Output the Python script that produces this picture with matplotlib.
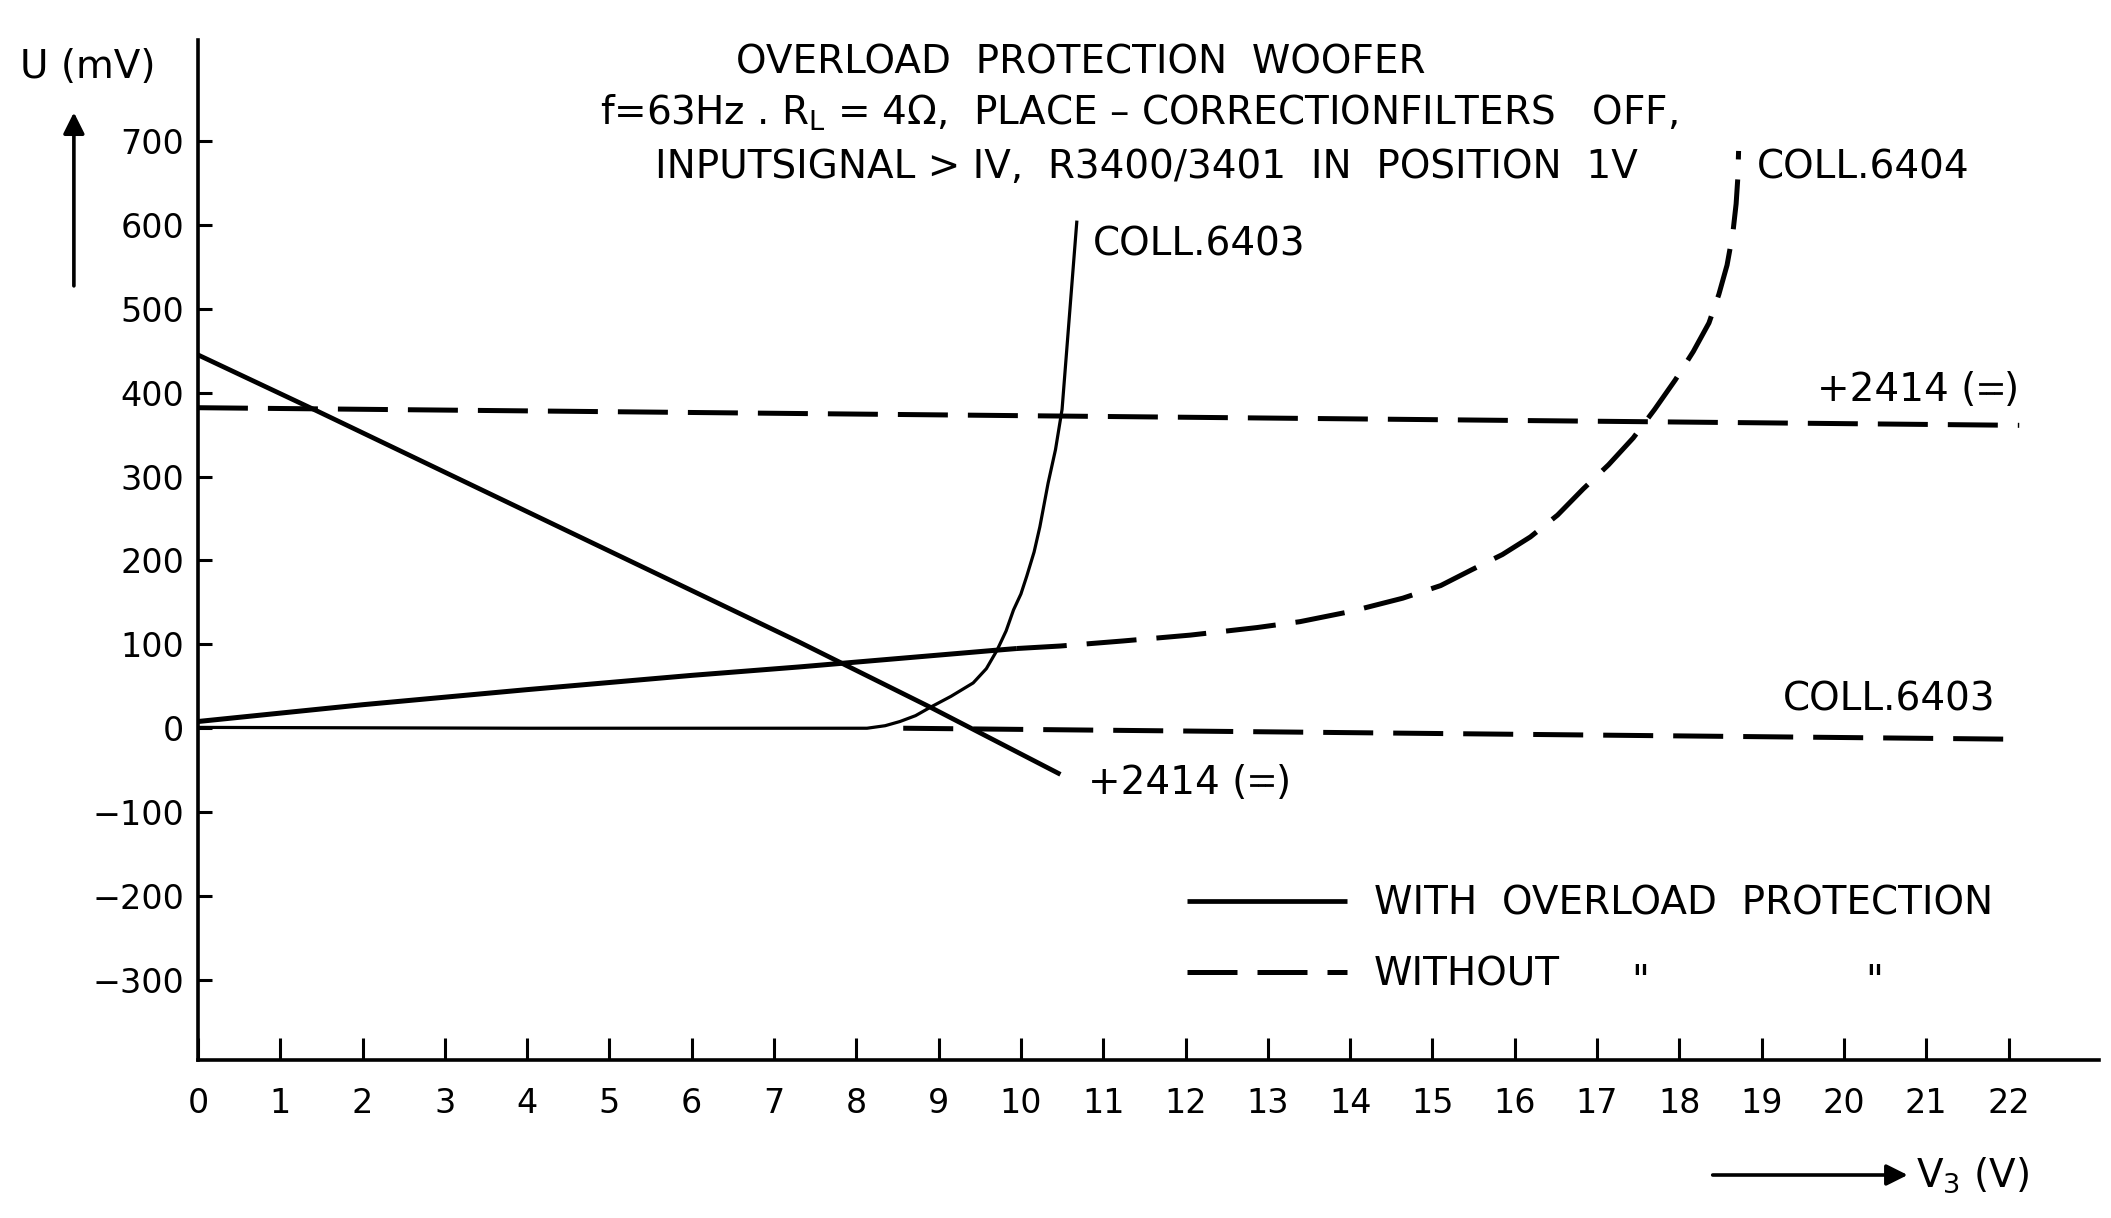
import matplotlib
matplotlib.use("Agg")
import matplotlib.pyplot as plt
from matplotlib.offsetbox import TextArea, DrawingArea, HPacker, AnnotationBbox
from matplotlib.lines import Line2D

plt.rcParams['font.family'] = ['DejaVu Sans']
plt.rcParams['mathtext.fontset'] = 'dejavusans'

# ---------------- data ----------------
x_ticks = list(range(0, 23))
y_ticks = [-300, -200, -100, 0, 100, 200, 300, 400, 500, 600, 700]

# COLL.6403 with overload protection (solid)
coll6403_with_x = [0, 4, 8.13, 8.35, 8.53, 8.72, 8.9, 9.15, 9.42, 9.58, 9.71, 9.82, 9.91,
                   10.0, 10.07, 10.16, 10.23, 10.33, 10.42, 10.5, 10.58, 10.68]
coll6403_with_y = [1, 0, 0, 3, 8, 15, 25, 38, 54, 71, 93, 116, 141,
                   160, 181, 210, 240, 292, 332, 380, 480, 605]

# +2414 with overload protection (solid)
p2414_with_x = [0, 1.45, 7.3, 8.9, 10.48]
p2414_with_y = [445, 378, 103, 25, -55]

# COLL.6404 curve (solid part then dashed part)
coll6404_x = [0, 2, 4, 6, 7.3, 7.9, 9.7, 9.95, 10.48, 11.24, 12.06, 12.87, 13.39, 14.0,
              14.64, 15.1, 15.48, 15.85, 16.19, 16.52, 16.83, 17.14, 17.44, 17.7, 17.95,
              18.17, 18.36, 18.48, 18.58, 18.65, 18.69, 18.71, 18.72]
coll6404_y = [8, 28, 46, 63, 73, 78, 93, 95, 98, 104, 111, 120, 127, 139,
              155, 170, 189, 207, 228, 254, 285, 314, 346, 380, 415,
              449, 483, 517, 552, 590, 625, 655, 688]
coll6404_split = 7  # index where the solid stroke ends and dashes begin

# +2414 without overload protection (dashed)
p2414_without_x = [0, 22.13]
p2414_without_y = [382, 361]

# COLL.6403 without overload protection (dashed)
coll6403_without_x = [8.57, 21.97]
coll6403_without_y = [0, -13]

# ---------------- figure ----------------
W, H = 2111, 1218
fig = plt.figure(figsize=(W / 100, H / 100), dpi=100)
ax = fig.add_axes([0.09375, 0.130, 0.9006, 0.837])
ax.set_xlim(0, 23.1)
ax.set_ylim(-395, 820)

DASH = (0, (10, 4))
LW_D = 3.6

ax.plot(coll6403_with_x, coll6403_with_y, color='black', lw=2.3,
        solid_capstyle='butt', solid_joinstyle='round')
h_with, = ax.plot(p2414_with_x, p2414_with_y, color='black', lw=3.4, solid_capstyle='butt')
ax.plot(coll6404_x[:coll6404_split + 1], coll6404_y[:coll6404_split + 1],
        color='black', lw=3.6, solid_capstyle='butt')
ax.plot(coll6404_x[coll6404_split:], coll6404_y[coll6404_split:],
        color='black', lw=LW_D, linestyle=DASH, dash_capstyle='butt', dash_joinstyle='round')
h_without, = ax.plot(p2414_without_x, p2414_without_y, color='black', lw=LW_D,
                     linestyle=DASH, dash_capstyle='butt')
ax.plot(coll6403_without_x, coll6403_without_y, color='black', lw=LW_D,
        linestyle=DASH, dash_capstyle='butt')

# axes styling
for s in ['top', 'right']:
    ax.spines[s].set_visible(False)
for s in ['left', 'bottom']:
    ax.spines[s].set_linewidth(2.6)
ax.set_xticks(x_ticks)
ax.set_xticklabels([str(v) for v in x_ticks])
ax.set_yticks(y_ticks)
ax.set_yticklabels([str(v).replace('-', '\u2212') for v in y_ticks])
ax.tick_params(axis='x', direction='in', length=16, width=2.2, pad=20, labelsize=24)
ax.tick_params(axis='y', direction='in', length=10, width=2.2, pad=10, labelsize=24)

FS = 28
# title block
ax.text(10.73, 794, "OVERLOAD  PROTECTION  WOOFER", ha='center', va='center', fontsize=FS)
ax.text(11.43, 733, "f=63Hz . R$_\\mathregular{L}$ = 4Ω,  PLACE – CORRECTIONFILTERS   OFF,",
        ha='center', va='center', fontsize=FS)
ax.text(11.52, 669, "INPUTSIGNAL > IV,  R3400/3401  IN  POSITION  1V",
        ha='center', va='center', fontsize=FS)

# curve labels
ax.text(10.88, 576, "COLL.6403", ha='left', va='center', fontsize=FS)
ax.text(18.94, 668, "COLL.6404", ha='left', va='center', fontsize=FS)
ax.text(21.84, 34, "COLL.6403", ha='right', va='center', fontsize=FS)


def dc_label(xy, align):
    """'+2414 (⎓)' – the DC sign (U+2393) is in no installed font, so it is drawn."""
    da = DrawingArea(18, 20, 0, 0)
    da.add_artist(Line2D([1.5, 16.5], [12.5, 12.5], color='black', lw=2.0))
    for x0 in (1.5, 7.0, 12.5):
        da.add_artist(Line2D([x0, x0 + 4.0], [6.0, 6.0], color='black', lw=2.0))
    pack = HPacker(children=[TextArea("+2414 (", textprops=dict(fontsize=FS)), da,
                             TextArea(")", textprops=dict(fontsize=FS))],
                   align='baseline', pad=0, sep=1)
    ab = AnnotationBbox(pack, xy, xycoords='data', box_alignment=align,
                        frameon=False, pad=0)
    ax.add_artist(ab)


dc_label((22.13, 403), (1, 0.5))
dc_label((10.82, -65), (0, 0.5))

# legend
leg = ax.legend([h_with, h_without], ["WITH  OVERLOAD  PROTECTION", "WITHOUT"],
                loc='center left', bbox_to_anchor=(0.5624, 0.229),
                bbox_transform=fig.transFigure, frameon=False, fontsize=FS,
                handlelength=4.1, handletextpad=0.7, labelspacing=0.85,
                borderpad=0, borderaxespad=0)
fig.text(0.777, 0.1847, '"', ha='center', va='baseline', fontsize=FS)
fig.text(0.888, 0.1847, '"', ha='center', va='baseline', fontsize=FS)

# axis labels with arrows
fig.text(0.0415, 0.945, "U (mV)", ha='center', va='center', fontsize=FS)
ax.annotate('', xy=(0.035, 0.910), xytext=(0.035, 0.763), xycoords='figure fraction',
            textcoords='figure fraction', annotation_clip=False,
            arrowprops=dict(arrowstyle='-|>', lw=2.6, mutation_scale=32, color='black'))
fig.text(0.9076, 0.0353, "V$_3$ (V)", ha='left', va='center', fontsize=FS)
ax.annotate('', xy=(0.905, 0.0353), xytext=(0.810, 0.0353), xycoords='figure fraction',
            textcoords='figure fraction', annotation_clip=False,
            arrowprops=dict(arrowstyle='-|>', lw=2.6, mutation_scale=32, color='black'))

fig.savefig("out.png", dpi=100, facecolor='white')
